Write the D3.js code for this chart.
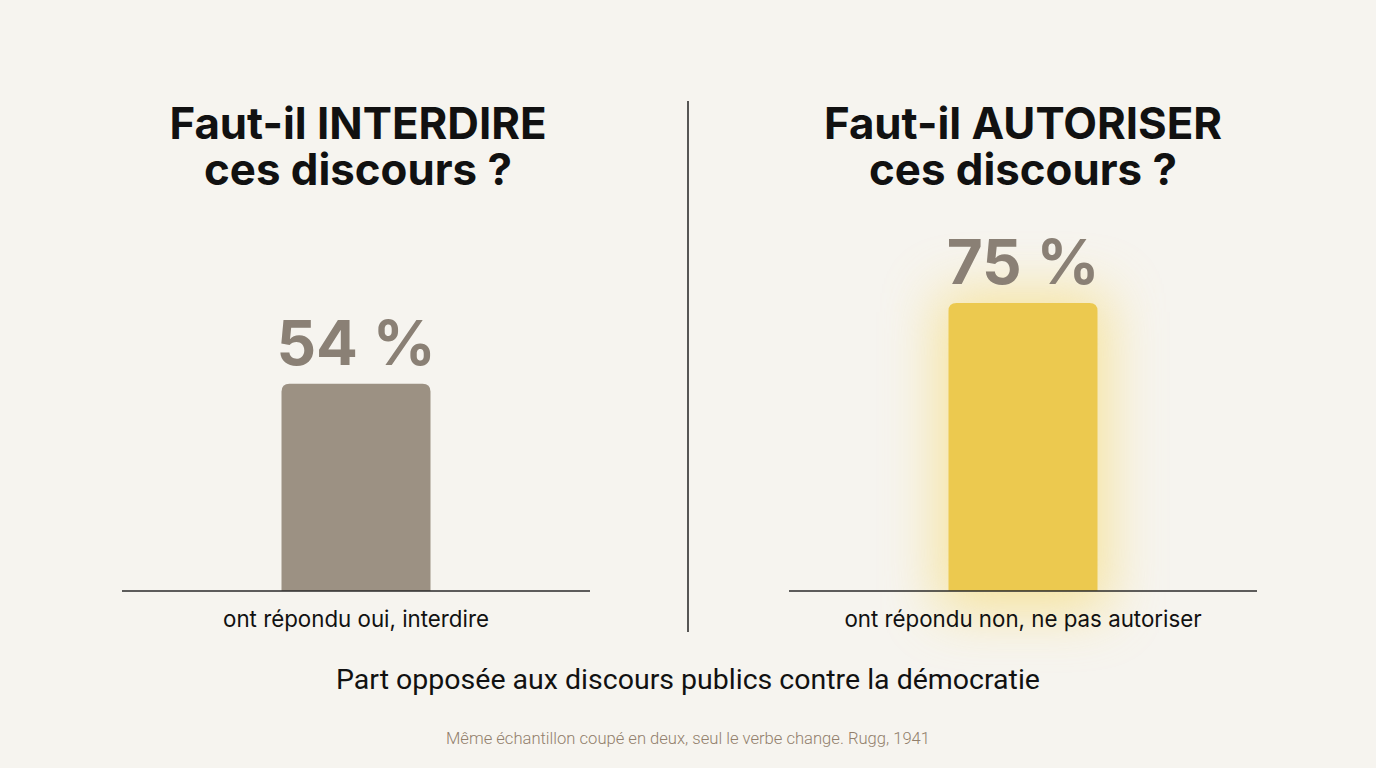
<!DOCTYPE html>
<html>
<head>
<meta charset="utf-8">
<script src="https://cdn.jsdelivr.net/npm/d3@7"></script>
<style>
  body { margin: 0; background: #f6f4ef; }
  svg { display: block; }
</style>
</head>
<body>
<div id="container"></div>
<script>
/**
 * DATA
 * */
const panels = ["interdire", "autoriser"];
const titlesLine1 = ["Faut-il INTERDIRE", "Faut-il AUTORISER"];
const titlesLine2 = ["ces discours ?", "ces discours ?"];
const values = [54, 75];
const answerLabels = ["ont répondu oui, interdire", "ont répondu non, ne pas autoriser"];
const barColors = ["#9c9183", "#ecc94f"];
const subtitle = "Part opposée aux discours publics contre la démocratie";
const footnote = "Même échantillon coupé en deux, seul le verbe change. Rugg, 1941";

/**
 * CONSTANTS
 * */
const width = 1376, height = 768;
const baseY = 591;
const barW = 149;

const svg = d3.select("#container")
  .append("svg")
  .attr("width", width)
  .attr("height", height);

svg.append("rect").attr("width", width).attr("height", height).attr("fill", "#f6f4ef");

// glow filter for highlighted bar
const defs = svg.append("defs");
const f = defs.append("filter").attr("id", "glow")
  .attr("x", "-100%").attr("y", "-50%").attr("width", "300%").attr("height", "200%");
f.append("feGaussianBlur").attr("in", "SourceGraphic").attr("stdDeviation", 28);

// panel centers
const x = d3.scalePoint().domain(panels).range([356, 1023]);
const y = d3.scaleLinear().domain([0, 100]).range([baseY, baseY - 384]);

// divider
svg.append("line")
  .attr("x1", 688).attr("x2", 688)
  .attr("y1", 101).attr("y2", 632)
  .attr("stroke", "#222").attr("stroke-width", 1.5);

const g = svg.selectAll("g.panel")
  .data(panels.map((p, i) => ({ p, i })))
  .join("g")
  .attr("class", "panel")
  .attr("transform", d => `translate(${x(d.p)},0)`);

// titles, two lines in one text block
const title = g.append("text")
  .attr("text-anchor", "middle")
  .attr("font-family", "Inter, sans-serif")
  .attr("font-weight", 700)
  .attr("font-size", 43.8)
  .attr("fill", "#111");
title.append("tspan")
  .attr("x", d => d.i === 0 ? 2 : 0)
  .attr("y", 139)
  .text(d => titlesLine1[d.i]);
title.append("tspan")
  .attr("x", d => d.i === 0 ? 2 : 0)
  .attr("y", 185)
  .text(d => titlesLine2[d.i]);

// glow behind the highlighted bar
g.filter(d => d.i === 1)
  .append("rect")
  .attr("x", -barW / 2 - 10)
  .attr("width", barW + 20)
  .attr("y", d => y(values[d.i]) - 10)
  .attr("height", d => baseY - y(values[d.i]) + 30)
  .attr("fill", "#f6d865")
  .attr("opacity", 0.6)
  .attr("filter", "url(#glow)");

// bars (rounded top corners)
g.append("path")
  .attr("fill", d => barColors[d.i])
  .attr("d", d => {
    const top = y(values[d.i]), r = 8, l = -barW / 2, rt = barW / 2;
    return `M${l},${baseY}V${top + r}Q${l},${top} ${l + r},${top}H${rt - r}Q${rt},${top} ${rt},${top + r}V${baseY}Z`;
  });

// value labels
g.append("text")
  .attr("y", d => y(values[d.i]) - 19)
  .attr("text-anchor", "middle")
  .attr("font-family", "Inter, sans-serif")
  .attr("font-weight", 700)
  .attr("font-size", 62)
  .attr("fill", "#8a8075")
  .text(d => `${values[d.i]} %`);

// baselines
g.append("line")
  .attr("x1", -234).attr("x2", 234)
  .attr("y1", baseY).attr("y2", baseY)
  .attr("stroke", "#2a2a2a").attr("stroke-width", 1.5);

// answer labels
g.append("text")
  .attr("y", 627)
  .attr("text-anchor", "middle")
  .attr("font-family", "Inter, sans-serif")
  .attr("font-size", 22.3)
  .attr("fill", "#111")
  .text(d => answerLabels[d.i]);

svg.append("text")
  .attr("x", 688).attr("y", 689)
  .attr("text-anchor", "middle")
  .attr("font-family", "Roboto, sans-serif")
  .attr("font-size", 28.5)
  .attr("fill", "#111")
  .text(subtitle);

svg.append("text")
  .attr("x", 688).attr("y", 744)
  .attr("text-anchor", "middle")
  .attr("font-family", "Roboto, sans-serif")
  .attr("font-weight", 300)
  .attr("font-size", 16.6)
  .attr("fill", "#927f6c")
  .text(footnote);
</script>
</body>
</html>
